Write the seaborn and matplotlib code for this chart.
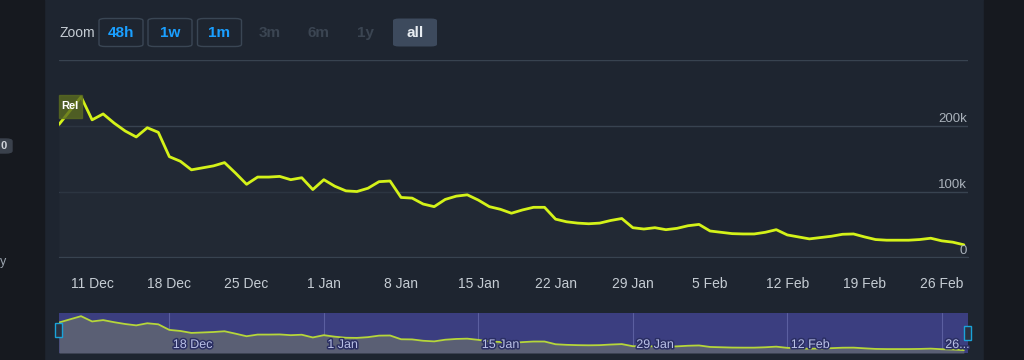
import pandas as pd
import matplotlib
matplotlib.use('Agg')
import matplotlib.pyplot as plt
import matplotlib.dates as mdates
import matplotlib.patheffects as pe
from matplotlib.patches import FancyBboxPatch, Rectangle
import seaborn as sns

# daily player counts (thousands), 8 Dec -> 28 Feb
dec_values = [202, 223, 244, 209, 218, 204, 192, 183, 197, 190, 153, 146,
              133, 136, 139, 144, 128, 111, 122, 122, 123, 118, 121, 103]
jan_values = [118, 108, 101, 100, 105, 115, 116, 91, 90, 81, 77, 88, 93, 95,
              87, 77, 73, 67, 72, 76, 76, 58, 54, 52, 51, 52, 56, 59, 45, 43, 45]
feb_values = [42, 44, 48, 50, 40, 38, 36, 35.5, 35.5, 38, 42, 34, 31, 28, 30,
              32, 35, 35.5, 31, 27, 26, 26, 26, 27, 29, 25, 23, 19]
start_date = '2023-12-08'
y_ticks = [0, 100000, 200000, 300000]
y_labels = ['0', '100k', '200k', '']
zoom_buttons = ['48h', '1w', '1m', '3m', '6m', '1y', 'all']
annotation = 'Rel'

values = [v * 1000 for v in dec_values + jan_values + feb_values]
dates = pd.date_range(start_date, periods=len(values), freq='D')
df = pd.DataFrame({'date': dates, 'players': values})

BG = '#1e2530'
OUTER = '#16191f'
GRID = '#384350'
LINE = '#d4f219'
TEXT = '#c5ccd3'

sns.set_style('dark', {'axes.facecolor': BG, 'figure.facecolor': BG})
plt.rcParams['font.family'] = ['Liberation Sans', 'DejaVu Sans']

W, H = 1024, 360
fig = plt.figure(figsize=(W / 100, H / 100), dpi=100)
fig.patch.set_facecolor(BG)


def fx(x):
    return x / W


def fy(y):
    return 1 - y / H


# outer page strips
fig.add_artist(Rectangle((0, 0), fx(44), 1, transform=fig.transFigure,
                         color=OUTER, zorder=0))
fig.add_artist(Rectangle((fx(984), 0), 1 - fx(984), 1, transform=fig.transFigure,
                         color=OUTER, zorder=0))
fig.add_artist(FancyBboxPatch((fx(-6), fy(153)), fx(18), 14 / H, transform=fig.transFigure,
                              boxstyle='round,pad=0,rounding_size=0.006',
                              color='#3a414c', zorder=1))
fig.text(fx(4), fy(146), '0', color='#d0d4da', fontsize=8, fontweight='bold',
         va='center', ha='center')
fig.text(fx(0), fy(262), 'y', color='#9aa3ad', fontsize=9, va='center', ha='left')

# zoom buttons
fig.text(fx(59), fy(33), 'Zoom', color=TEXT, fontsize=10, va='center', ha='left')
btn_x = [121, 170, 219.5, 270, 318.5, 366, 415]
for label, cx in zip(zoom_buttons, btn_x):
    if label in ('48h', '1w', '1m'):
        fig.add_artist(FancyBboxPatch((fx(cx - 22), fy(46.5)), fx(44), 28 / H,
                                      transform=fig.transFigure,
                                      boxstyle='round,pad=0,rounding_size=0.006',
                                      facecolor=BG, edgecolor='#3a4654', lw=1))
        color = '#1a9fff'
    elif label == 'all':
        fig.add_artist(FancyBboxPatch((fx(cx - 22), fy(46.5)), fx(44), 28 / H,
                                      transform=fig.transFigure,
                                      boxstyle='round,pad=0,rounding_size=0.006',
                                      facecolor='#3d4a5d', edgecolor='none'))
        color = '#e8edf2'
    else:
        color = '#3b4552'
    fig.text(fx(cx), fy(33), label, color=color, fontsize=11, fontweight='bold',
             va='center', ha='center')

# main chart
ax = fig.add_axes([fx(59), fy(257.3), fx(968) - fx(59), (257.3 - 60) / H])
ax.set_facecolor(BG)
ax.fill_between(df['date'], df['players'], color='#252d38', alpha=0.6, lw=0)
sns.lineplot(data=df, x='date', y='players', ax=ax, color=LINE, lw=2)
ax.set_xlim(dates[0], dates[-1] + pd.Timedelta(hours=9))
ax.set_ylim(0, 300000)
ax.set_yticks(y_ticks)
ax.set_yticklabels([])
ax.tick_params(axis='y', length=0)
ax.grid(axis='y', color=GRID, lw=1)
ax.grid(axis='x', visible=False)
for s in ['top', 'right', 'left']:
    ax.spines[s].set_visible(False)
ax.spines['bottom'].set_color(GRID)
ax.xaxis.set_major_locator(mdates.WeekdayLocator(byweekday=mdates.MO))
ax.xaxis.set_major_formatter(plt.FuncFormatter(
    lambda v, p: f"{mdates.num2date(v).day} {mdates.num2date(v):%b}"))
ax.tick_params(axis='x', colors=GRID, length=8, width=1, labelcolor=TEXT,
               labelsize=10, pad=6, direction='out')
ax.set_xlabel('')
ax.set_ylabel('')
for t, lab in zip(y_ticks, y_labels):
    ax.annotate(lab, xy=(1, t), xycoords=ax.get_yaxis_transform(),
                xytext=(-1, 0.5), textcoords='offset points',
                ha='right', va='bottom', color='#aab2bb', fontsize=9.5)

# "Rel" flag
fig.add_artist(Rectangle((fx(59), fy(117.7)), fx(22.5), 22.7 / H,
                         transform=fig.transFigure, color='#5a6b20', alpha=0.8, zorder=5))
fig.text(fx(70), fy(106), annotation, color='white', fontsize=8, fontweight='bold',
         va='center', ha='center', zorder=6)

# navigator
nav = fig.add_axes([fx(59), fy(353), fx(968) - fx(59), 40 / H])
nav.set_facecolor('#3b3e80')
nav.fill_between(df['date'], df['players'], color='#5a5f74', lw=0)
sns.lineplot(data=df, x='date', y='players', ax=nav, color='#b6d63a', lw=1.3)
nav.set_xlim(ax.get_xlim())
nav.set_ylim(0, 265000)
nav.set_yticks([])
nav.set_xlabel('')
nav.set_ylabel('')
for s in nav.spines.values():
    s.set_visible(False)
nav.xaxis.set_major_locator(mdates.WeekdayLocator(byweekday=mdates.MO, interval=2))
nav.set_xticklabels([])
nav.tick_params(axis='x', length=0)
nav.grid(axis='x', color='#5b5fa0', lw=0.8)
nav.grid(axis='y', visible=False)
for d in nav.get_xticks():
    dt = mdates.num2date(d)
    lab = f"{dt.day} {dt:%b}"
    if dt.month == 2 and dt.day > 20:
        lab = f"{dt.day}..."
    nav.text(d, 0.05, ' ' + lab, transform=nav.get_xaxis_transform(),
             color='#b9c0e6', fontsize=9, va='bottom', ha='left',
             path_effects=[pe.withStroke(linewidth=2.2, foreground='#2b2f63')])

# navigator handles
for hx, hy in [(55, 323), (964, 326)]:
    fig.add_artist(Rectangle((fx(hx), fy(hy + 14)), fx(7), 14 / H,
                             transform=fig.transFigure, facecolor='#2a3140',
                             edgecolor='#1aa3d9', lw=1, zorder=6))

fig.savefig('out.png', dpi=100, facecolor=fig.get_facecolor())
